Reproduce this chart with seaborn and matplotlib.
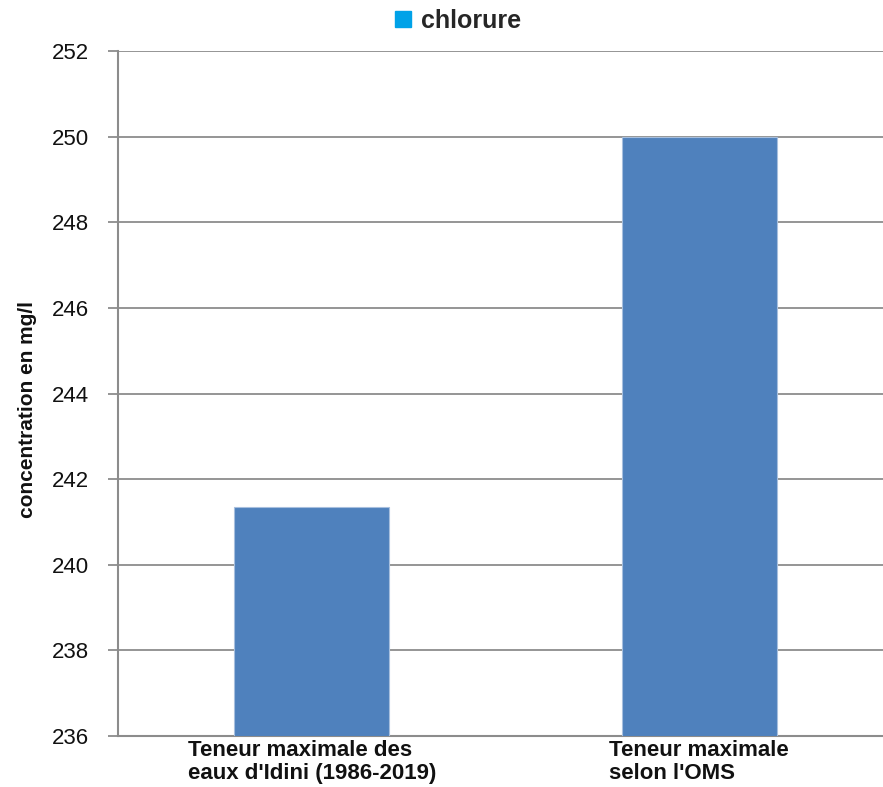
import matplotlib
matplotlib.use("Agg")
import matplotlib.pyplot as plt
from matplotlib.lines import Line2D
import seaborn as sns
import pandas as pd

categories = ["Teneur maximale des\neaux d'Idini (1986-2019)", "Teneur maximale\nselon l'OMS"]
values = [241.35, 250.0]
series_name = "chlorure"
y_ticks = [236, 238, 240, 242, 244, 246, 248, 250, 252]

sns.set_theme(style="white")
plt.rcParams["font.family"] = ["Liberation Sans", "DejaVu Sans"]

df = pd.DataFrame({"cat": categories, "val": values})

fig = plt.figure(figsize=(8.83, 7.87), dpi=100)
ax = fig.add_axes([118 / 883, 1 - 736 / 787, 1 - 118 / 883, (736 - 51) / 787])

sns.barplot(data=df, x="cat", y="val", color="#4F81BD", saturation=1, width=0.40,
            ax=ax, zorder=3)
for p in ax.patches:
    p.set_edgecolor("#A7BFDE")
    p.set_linewidth(0.8)

ax.set_ylim(236, 252)
ax.set_xlim(-0.5, 1.474)
ax.set_yticks(y_ticks)
ax.set_yticklabels([str(t) for t in y_ticks], fontsize=16)
ax.yaxis.grid(True, color="#8C8C8C", linewidth=1.3, zorder=0)
ax.set_axisbelow(True)

ax.set_xticks([0, 1])
ax.set_xticklabels(categories, fontsize=16, fontweight="bold", multialignment="left",
                   linespacing=1.12)
ax.tick_params(axis="x", which="major", length=0, pad=3, labelcolor="#111111")
ax.set_xticks([-0.5, 0.5], minor=True)
ax.tick_params(axis="x", which="minor", length=5, width=1.2, color="#8C8C8C")
ax.tick_params(axis="y", which="major", left=True, length=7.2, width=1.3, color="#8C8C8C",
               pad=14, labelcolor="#111111")

ax.set_xlabel("")
ax.set_ylabel("concentration en mg/l", fontsize=15, fontweight="bold", color="#111111")
ax.yaxis.set_label_coords(-0.106, 0.477)

for side in ["top", "right"]:
    ax.spines[side].set_visible(False)
for side in ["left", "bottom"]:
    ax.spines[side].set_color("#8C8C8C")
    ax.spines[side].set_linewidth(1.5)

handle = Line2D([0], [0], marker="s", color="none", markerfacecolor="#00A2E8",
                markeredgecolor="#00A2E8", markersize=11)
fig.legend([handle], [series_name], loc="center", bbox_to_anchor=(456 / 883, 1 - 21 / 787),
           frameon=False, handletextpad=0.2, handlelength=1.0,
           prop={"weight": "bold", "size": 18})

fig.savefig("out.png", dpi=100)
